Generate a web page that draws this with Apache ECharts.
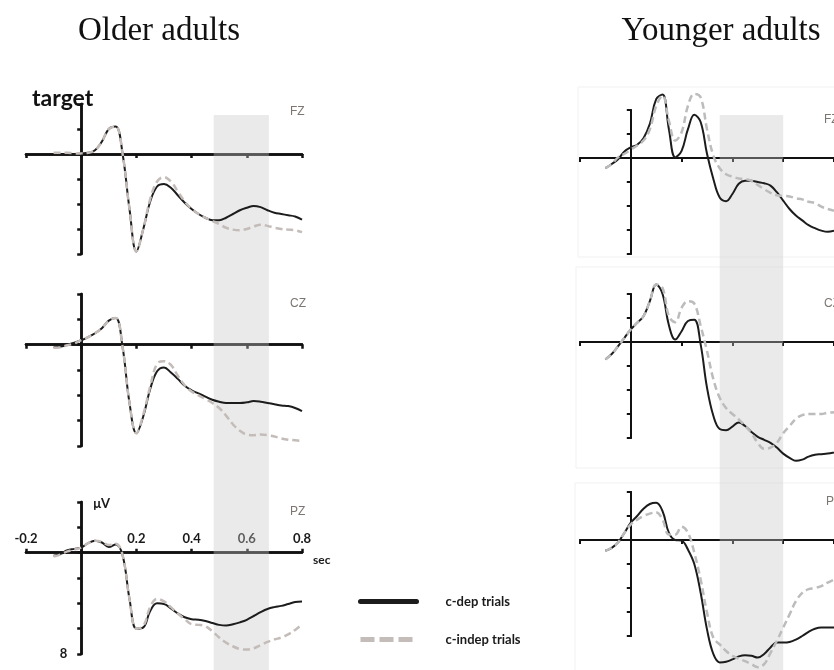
<!DOCTYPE html>
<html>
<head>
<meta charset="utf-8">
<script src="https://cdn.jsdelivr.net/npm/echarts@6/dist/echarts.min.js"></script>
<style>
  html, body { margin: 0; padding: 0; background: #fff; }
  #chart { width: 834px; height: 670px; }
</style>
</head>
<body>
<div id="chart"></div>
<script>
// time points in seconds (shared by every panel)
const times = [-0.15, -0.125, -0.1, -0.075, -0.05, -0.025, 0, 0.025, 0.05, 0.075,
  0.1, 0.125, 0.15, 0.175, 0.2, 0.225, 0.25, 0.275, 0.3, 0.325,
  0.35, 0.375, 0.4, 0.425, 0.45, 0.475, 0.5, 0.525, 0.55, 0.575,
  0.6, 0.625, 0.65, 0.675, 0.7, 0.725, 0.75, 0.775, 0.8]

const seriesNames = ['c-dep trials', 'c-indep trials']
const xTicks = [-0.2, 0.2, 0.4, 0.6, 0.8]
const yTickLabel = 8

// Older adults (µV, negative plotted upward)
const olderFzDep = [null, null, 0, 0, 0, 0, -0.05, -0.1, -0.3, -1.0,
  -2.0, -2.2, 0.0, 4.4, 7.8, 6.0, 3.8, 2.6, 2.4, 2.7,
  3.3, 3.9, 4.4, 4.8, 5.1, 5.3, 5.3, 5.1, 4.8, 4.5,
  4.3, 4.15, 4.25, 4.5, 4.7, 4.8, 4.9, 5.0, 5.25]
const olderFzIndep = [null, null, -0.1, -0.1, -0.1, -0.05, -0.05, -0.1, -0.3, -1.0,
  -2.0, -2.2, 0.0, 4.4, 7.8, 6.0, 3.6, 2.2, 1.85, 2.2,
  3.0, 3.8, 4.4, 4.8, 5.1, 5.35, 5.6, 5.9, 6.05, 6.1,
  6.0, 5.8, 5.65, 5.75, 5.9, 6.0, 6.05, 6.1, 6.25]
const olderCzDep = [null, null, 0.2, 0.15, 0, -0.15, -0.35, -0.6, -0.9, -1.3,
  -1.9, -2.1, 0.2, 4.6, 7.0, 5.65, 3.5, 2.1, 1.8, 2.2,
  2.7, 3.25, 3.6, 3.85, 4.1, 4.35, 4.5, 4.6, 4.6, 4.6,
  4.55, 4.45, 4.5, 4.6, 4.7, 4.8, 4.85, 5.0, 5.25]
const olderCzIndep = [null, null, 0.25, 0.2, 0.05, -0.1, -0.35, -0.6, -0.9, -1.3,
  -1.9, -2.1, 0.2, 4.6, 7.0, 5.5, 3.3, 1.5, 1.3, 1.6,
  2.45, 3.2, 3.7, 4.0, 4.3, 4.6, 5.0, 5.6, 6.3, 6.8,
  7.1, 7.15, 7.1, 7.15, 7.25, 7.4, 7.5, 7.55, 7.6]
const olderPzDep = [null, null, 0.25, 0.1, -0.2, -0.3, -0.4, -0.75, -0.95, -0.8,
  -0.45, -0.65, 0.2, 3.65, 6.0, 5.9, 4.6, 4.0, 4.05, 4.4,
  4.8, 5.1, 5.25, 5.3, 5.4, 5.55, 5.7, 5.75, 5.65, 5.5,
  5.3, 5.0, 4.7, 4.45, 4.3, 4.2, 4.05, 3.9, 3.85]
const olderPzIndep = [null, null, 0.3, 0.15, -0.1, -0.25, -0.4, -0.75, -0.95, -0.85,
  -0.6, -0.7, 0.2, 3.65, 6.0, 5.8, 4.3, 3.65, 3.85, 4.3,
  4.8, 5.25, 5.65, 5.7, 5.8, 6.2, 6.7, 7.1, 7.4, 7.6,
  7.65, 7.55, 7.3, 7.05, 6.85, 6.7, 6.45, 6.1, 5.65]

// Younger adults
const youngerFzDep = [null, null, 0.85, 0.5, 0.1, -0.55, -0.9, -1.1, -1.65, -2.85,
  -4.9, -5.3, -2.4, -0.05, -0.6, -2.4, -3.6, -3.0, -0.35, 1.75,
  3.3, 3.6, 3.0, 2.15, 1.9, 1.9, 2.0, 2.1, 2.3, 2.85,
  3.55, 4.25, 4.8, 5.2, 5.6, 5.85, 6.05, 6.15, 6.05]
const youngerFzIndep = [null, null, 0.85, 0.5, -0.05, -0.35, -0.7, -1.05, -1.45, -2.4,
  -4.35, -5.2, -3.1, -1.45, -2.15, -4.35, -5.35, -5.05, -2.4, -0.2,
  0.85, 1.35, 1.55, 1.7, 1.75, 1.9, 2.25, 2.6, 2.9, 3.1,
  3.15, 3.2, 3.35, 3.45, 3.65, 3.75, 4.05, 4.25, 4.4]
const youngerCzDep = [null, null, 1.45, 1.0, 0.35, -0.35, -1.05, -1.6, -2.15, -3.4,
  -4.8, -4.0, -1.4, -0.2, -0.9, -1.75, -1.85, 0.2, 3.8, 6.15,
  7.25, 7.35, 7.05, 6.7, 7.0, 7.5, 7.9, 8.15, 8.4, 8.8,
  9.3, 9.65, 9.9, 9.8, 9.55, 9.4, 9.35, 9.3, 9.2]
const youngerCzIndep = [null, null, 1.45, 1.0, 0.35, -0.35, -1.05, -1.6, -2.15, -3.4,
  -4.8, -4.5, -2.15, -1.65, -2.85, -3.4, -3.2, -1.35, 0.75, 3.1,
  4.65, 5.5, 6.0, 6.45, 7.0, 7.6, 8.4, 8.9, 8.8, 8.4,
  7.6, 7.0, 6.4, 6.1, 6.0, 6.0, 6.0, 5.9, 5.85]
const youngerPzDep = [null, null, 0.9, 0.65, 0.2, -0.6, -1.45, -2.0, -2.6, -3.0,
  -3.1, -2.4, -0.6, 0, 0.05, 0.8, 2.0, 4.4, 7.45, 9.5,
  10.2, 10.15, 9.95, 9.7, 9.6, 9.65, 9.8, 9.5, 8.95, 8.55,
  8.55, 8.5, 8.3, 8.0, 7.65, 7.4, 7.3, 7.3, 7.3]
const youngerPzIndep = [null, null, 0.9, 0.65, 0.2, -0.6, -1.3, -1.7, -2.0, -2.2,
  -2.3, -1.7, -0.45, -0.45, -1.1, -0.6, 1.05, 3.3, 6.05, 8.15,
  8.7, 9.25, 9.65, 9.9, 10.1, 10.35, 10.6, 10.35, 9.4, 8.4,
  7.3, 6.2, 5.1, 4.4, 4.1, 4.0, 3.85, 3.55, 3.3]

// analysis windows (s)
const olderWindow = [0.48, 0.68]
const youngerWindow = [0.35, 0.6]

const X_MIN = -0.2, X_MAX = 0.8, Y_MIN = -4, Y_MAX = 8

const panels = [
  { label: 'FZ', dep: olderFzDep, indep: olderFzIndep, left: 26, width: 276, top: 104, height: 150, older: true },
  { label: 'CZ', dep: olderCzDep, indep: olderCzIndep, left: 26, width: 276, top: 294, height: 152, older: true },
  { label: 'PZ', dep: olderPzDep, indep: olderPzIndep, left: 26, width: 276, top: 502, height: 152, older: true, labelled: true },
  { label: 'FZ', dep: youngerFzDep, indep: youngerFzIndep, left: 580, width: 256, top: 110, height: 144 },
  { label: 'CZ', dep: youngerCzDep, indep: youngerCzIndep, left: 580, width: 256, top: 294, height: 144 },
  { label: 'PZ', dep: youngerPzDep, indep: youngerPzIndep, left: 580, width: 256, top: 492, height: 144 }
]

const labelPos = [
  { left: 285, top: 101 }, { left: 285, top: 293 }, { left: 285, top: 501 },
  { left: 819, top: 109 }, { left: 819, top: 293 }, { left: 821, top: 491 }
]

const chart = echarts.init(document.getElementById('chart'))

const grid = []
const xAxis = []
const yAxis = []
const series = []
const boldFont = { fontFamily: 'Lato', fontWeight: 'bold', fontSize: 13, color: '#1a1a1a' }

panels.forEach((p, g) => {
  grid.push({ left: p.left, width: p.width, top: p.top, height: p.height })
  const w = p.older ? 2.5 : 2
  const axisStyle = { color: '#111', width: w }
  // labels stay at the grid edge, so shift them to the zero lines
  const zeroFromTop = p.height * (0 - Y_MIN) / (Y_MAX - Y_MIN)
  const zeroFromLeft = p.width * (0 - X_MIN) / (X_MAX - X_MIN)
  for (let k = 0; k < 2; k++) {
    const inside = k === 1
    const x = {
      gridIndex: g, type: 'value', min: X_MIN, max: X_MAX, interval: 0.2,
      axisLine: { onZero: true, lineStyle: axisStyle },
      axisTick: { show: true, inside, length: 4, lineStyle: axisStyle },
      axisLabel: { show: false },
      splitLine: { show: false }
    }
    const y = {
      gridIndex: g, type: 'value', inverse: true, min: Y_MIN, max: Y_MAX, interval: 2,
      axisLine: { show: true, onZero: true, lineStyle: axisStyle },
      axisTick: { show: true, inside, length: 4, lineStyle: axisStyle },
      axisLabel: { show: false },
      splitLine: { show: false }
    }
    if (p.labelled && !inside) {
      x.position = 'top'
      x.axisLabel = {
        show: true, margin: 7 - zeroFromTop, showMinLabel: true, showMaxLabel: true, ...boldFont,
        formatter: (v) => (xTicks.some((t) => Math.abs(t - v) < 1e-6) ? v.toFixed(1) : '')
      }
      x.name = 'sec'
      x.nameLocation = 'end'
      x.nameGap = 11
      x.nameTextStyle = { ...boldFont, fontSize: 12, verticalAlign: 'top', padding: [1, 0, 0, 0] }
      y.axisLabel = {
        show: true, margin: 14 - zeroFromLeft, showMaxLabel: true, ...boldFont,
        formatter: (v) => (v === yTickLabel ? String(v) : '')
      }
      y.name = 'μV'
      y.nameLocation = 'start'
      y.nameGap = -2
      y.nameTextStyle = { ...boldFont, align: 'left', verticalAlign: 'middle', padding: [0, 0, 0, 12] }
    }
    xAxis.push(x)
    yAxis.push(y)
  }
  const toData = (arr) => times.map((t, i) => [t, arr[i]]).filter((d) => d[1] !== null)
  series.push({
    name: seriesNames[0], type: 'line', xAxisIndex: 2 * g, yAxisIndex: 2 * g,
    data: toData(p.dep), smooth: 0.4, symbol: 'none', clip: false, z: 2,
    lineStyle: { color: '#1c1c1c', width: 2 }, itemStyle: { color: '#1c1c1c' }
  })
  series.push({
    name: seriesNames[1], type: 'line', xAxisIndex: 2 * g, yAxisIndex: 2 * g,
    data: toData(p.indep), smooth: 0.4, symbol: 'none', clip: false, z: 2,
    lineStyle: { color: p.older ? '#c4bcb9' : '#bdbbbb', width: 2.5, type: [7, 4] },
    itemStyle: { color: '#c4bcb9' }
  })
})

// full-height grids carrying the shaded analysis windows
const shadeGrids = [
  { left: 26, width: 276, win: olderWindow },
  { left: 580, width: 256, win: youngerWindow }
]
shadeGrids.forEach((s) => {
  const g = grid.length
  grid.push({ left: s.left, width: s.width, top: 115, bottom: 0 })
  xAxis.push({ gridIndex: g, type: 'value', min: X_MIN, max: X_MAX, show: false })
  yAxis.push({ gridIndex: g, type: 'value', min: 0, max: 1, show: false })
  series.push({
    type: 'line', xAxisIndex: xAxis.length - 1, yAxisIndex: yAxis.length - 1,
    data: [[0, 2]], symbol: 'none', silent: true, z: 1,
    lineStyle: { opacity: 0 },
    markArea: {
      silent: true, z: 1,
      itemStyle: { color: 'rgba(200,200,200,0.38)' },
      data: [[{ xAxis: s.win[0] }, { xAxis: s.win[1] }]]
    }
  })
})

const serif = { fontFamily: 'Liberation Serif', fontWeight: 'normal', fontSize: 33, color: '#111' }
const titles = [
  { text: 'Older adults', left: 154, top: 10, textAlign: 'center', textStyle: serif },
  { text: 'Younger adults', left: 716, top: 10, textAlign: 'center', textStyle: serif },
  { text: 'target', left: 27, top: 82,
    textStyle: { fontFamily: 'Lato', fontWeight: 'bold', fontSize: 23, color: '#111' } }
]
panels.forEach((p, i) => {
  titles.push({
    text: p.label, left: labelPos[i].left, top: labelPos[i].top,
    textStyle: { fontFamily: 'Liberation Sans', fontWeight: 'normal', fontSize: 12, color: '#7d7571' }
  })
})

chart.setOption({
  animation: false,
  title: titles,
  legend: {
    data: [
      { name: seriesNames[0], lineStyle: { width: 5, cap: 'round' } },
      { name: seriesNames[1], lineStyle: { width: 5, type: [14, 5] } }
    ],
    orient: 'vertical', left: 353, top: 590, itemGap: 25,
    itemWidth: 56, itemHeight: 10,
    itemStyle: { opacity: 0, borderWidth: 0 },
    textStyle: { ...boldFont, padding: [0, 0, 0, 24] }
  },
  graphic: [
    { type: 'rect', shape: { x: 578, y: 87, width: 300, height: 170 }, style: { fill: 'none', stroke: '#f1f1f1' }, z: -1 },
    { type: 'rect', shape: { x: 576, y: 267, width: 300, height: 201 }, style: { fill: 'none', stroke: '#f1f1f1' }, z: -1 },
    { type: 'rect', shape: { x: 575, y: 483, width: 300, height: 220 }, style: { fill: 'none', stroke: '#f1f1f1' }, z: -1 }
  ],
  grid,
  xAxis,
  yAxis,
  series
})
</script>
</body>
</html>
